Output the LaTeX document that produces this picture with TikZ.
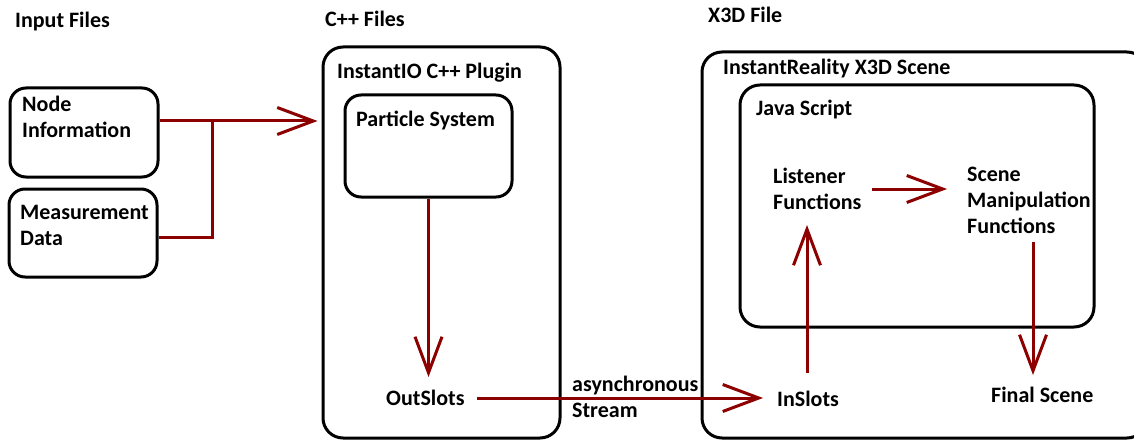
\documentclass[tikz,border=0pt]{standalone}
\usepackage{fontspec}
\setmainfont{Carlito}
\usetikzlibrary{arrows.meta}
\definecolor{darkred}{RGB}{140,0,0}
\begin{document}
\begin{tikzpicture}[x=1pt,y=-1pt,
  lbl/.style={anchor=base west,inner sep=0pt,align=left,font=\fontsize{22}{26}\selectfont\bfseries},
  box/.style={draw=black,line width=3pt,rounded corners=16pt,inner sep=0pt},
  conn/.style={draw=darkred,line width=3pt,-{Straight Barb[length=36pt,width=27pt,line width=3pt]}},
  plain/.style={draw=darkred,line width=3pt}]
\useasboundingbox (0,0) rectangle (1134,441);
\clip (0,0) rectangle (1134,441);
% titles
\node[lbl] (t1) at (15,28) {Input Files};
\node[lbl] (t2) at (325,27) {C++ Files};
\node[lbl] (t3) at (708,23) {X3D File};
% boxes
\node[box,minimum width=148pt,minimum height=89pt] (ni) at (84,132.5) {};
\node[box,minimum width=148pt,minimum height=88pt] (md) at (83,233) {};
\node[box,rounded corners=20pt,minimum width=237pt,minimum height=391pt] (pl) at (441.5,242.5) {};
\node[box,minimum width=167pt,minimum height=102pt] (ps) at (428.5,146) {};
\node[box,rounded corners=20pt,minimum width=445pt,minimum height=386pt] (x3) at (924.5,245) {};
\node[box,rounded corners=20pt,minimum width=354pt,minimum height=242pt] (js) at (917,206) {};
% labels (multi-line nodes: base = last line)
\node[lbl] (niT) at (22,138) {Node\\Information};
\node[lbl] (mdT) at (20,245) {Measurement\\Data};
\node[lbl] (plT) at (337,79) {InstantIO C++ Plugin};
\node[lbl] (psT) at (356,126) {Particle System};
\node[lbl] (out) at (386,405) {OutSlots};
\node[lbl] (st) at (572,417) {asynchronous\\Stream};
\node[lbl] (x3T) at (723,75) {InstantReality X3D Scene};
\node[lbl] (jsT) at (756,116) {Java Script};
\node[lbl] (lf) at (773,209) {Listener\\Functions};
\node[lbl] (sm) at (967,233) {Scene\\Manipulation\\Functions};
\node[lbl] (fs) at (991,402) {Final Scene};
\node[lbl] (in) at (777,406) {InSlots};
% connectors
\coordinate (j) at (212,121);
\draw[plain] (ni.east |- j) -- (j);
\draw[plain] (md.east |- 0,237) -| (j);
\draw[conn] (j) -- ([xshift=-4pt]pl.west |- j);
\draw[conn] (ps.south) -- (ps.south |- 0,377);
\draw[conn] (477,398) -- (763,398);
\draw[conn] (807,373) -- (807,225);
\draw[conn] (872,189) -- (947,189);
\draw[conn] (1033,242) -- (1033,375);
\end{tikzpicture}
\end{document}
